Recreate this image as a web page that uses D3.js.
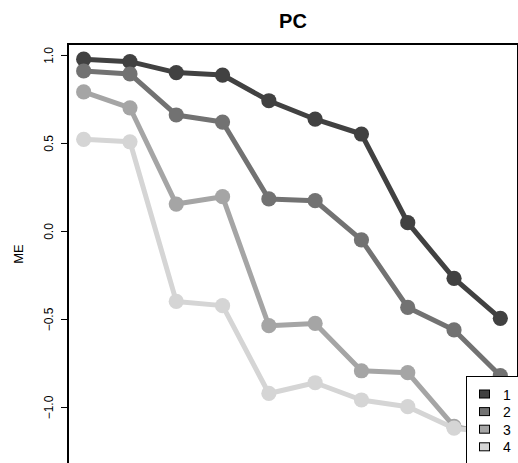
<!DOCTYPE html>
<html>
<head>
<meta charset="utf-8">
<script src="https://cdn.jsdelivr.net/npm/d3@7"></script>
<style>
  html, body { margin: 0; padding: 0; background: #fff; overflow: hidden; }
  svg { display: block; font-family: "Liberation Sans", Arial, sans-serif; }
</style>
</head>
<body>
<script>
// ---- data ----
const xIndex = [1, 2, 3, 4, 5, 6, 7, 8, 9, 10];
const seriesNames = ["1", "2", "3", "4"];
const series1 = [0.976, 0.962, 0.900, 0.886, 0.740, 0.635, 0.551, 0.047, -0.269, -0.496];
const series2 = [0.909, 0.892, 0.659, 0.619, 0.182, 0.172, -0.050, -0.434, -0.562, -0.822];
const series3 = [0.790, 0.700, 0.153, 0.195, -0.538, -0.525, -0.794, -0.805, -1.110, -1.160];
const series4 = [0.521, 0.507, -0.400, -0.424, -0.923, -0.862, -0.960, -0.998, -1.120, -1.150];
const seriesColors = ["#414141", "#727272", "#a5a5a5", "#d5d5d5"];
const yTicks = [-1.0, -0.5, 0.0, 0.5, 1.0];
const titleText = "PC";
const yLabel = "ME";

const W = 518, H = 463;
const svg = d3.select("body").append("svg").attr("width", W).attr("height", H);

const x = d3.scaleLinear().domain([0.64, 10.36]).range([67, 517]);
const y = d3.scaleLinear().domain([-1.318, 1.068]).range([463, 43]);

const allSeries = [series1, series2, series3, series4];

// lines and points
const line = d3.line().x((d, i) => x(xIndex[i])).y(d => y(d));
allSeries.forEach((vals, k) => {
  const g = svg.append("g");
  g.append("path").datum(vals)
    .attr("d", line)
    .attr("fill", "none")
    .attr("stroke", seriesColors[k])
    .attr("stroke-width", 5)
    .attr("stroke-linejoin", "round");
  g.selectAll("circle").data(vals).join("circle")
    .attr("cx", (d, i) => x(xIndex[i]))
    .attr("cy", d => y(d))
    .attr("r", 7.6)
    .attr("fill", seriesColors[k]);
});

// plot box
const [x0, x1] = x.range();
svg.append("rect")
  .attr("x", x0 + 1).attr("y", y.range()[1] + 1)
  .attr("width", x1 - x0).attr("height", y.range()[0] - y.range()[1] + 0.6)
  .attr("fill", "none").attr("stroke", "#000").attr("stroke-width", 2);

// y axis
const yAxis = d3.axisLeft(y).tickValues(yTicks).tickSize(7).tickFormat(d3.format(".1f"));
const ag = svg.append("g").attr("transform", `translate(${x0 + 1},0)`).call(yAxis);
ag.select(".domain").remove();
ag.selectAll(".tick line").attr("stroke", "#000").attr("stroke-width", 1);
ag.selectAll(".tick text")
  .attr("x", 0).attr("dy", 0).attr("dx", 0)
  .attr("transform", "translate(-15,0) rotate(-90)")
  .attr("text-anchor", "middle")
  .attr("fill", "#000")
  .style("font-size", "12px")
  .style("font-family", "Liberation Sans, Arial, sans-serif");

// y label
svg.append("text")
  .attr("transform", `translate(23,${(y.range()[0] + y.range()[1]) / 2 + 1}) rotate(-90)`)
  .attr("text-anchor", "middle")
  .style("font-size", "13px")
  .text(yLabel);

// title
svg.append("text")
  .attr("x", (x0 + x1) / 2 + 1).attr("y", 28)
  .attr("text-anchor", "middle")
  .style("font-size", "20px").style("font-weight", "bold")
  .text(titleText);

// legend
const lg = svg.append("g");
lg.append("rect").attr("x", 466.5).attr("y", 376.5).attr("width", 60).attr("height", 90)
  .attr("fill", "#fff").attr("stroke", "#000").attr("stroke-width", 1);
seriesNames.forEach((name, k) => {
  const cy = 394 + k * 17.6;
  lg.append("rect").attr("x", 479.5).attr("y", cy - 4).attr("width", 10).attr("height", 8)
    .attr("fill", seriesColors[k]).attr("stroke", "#000").attr("stroke-width", 1);
  lg.append("text").attr("x", 503).attr("y", cy + 5.5)
    .style("font-size", "14px").text(name);
});
</script>
</body>
</html>
